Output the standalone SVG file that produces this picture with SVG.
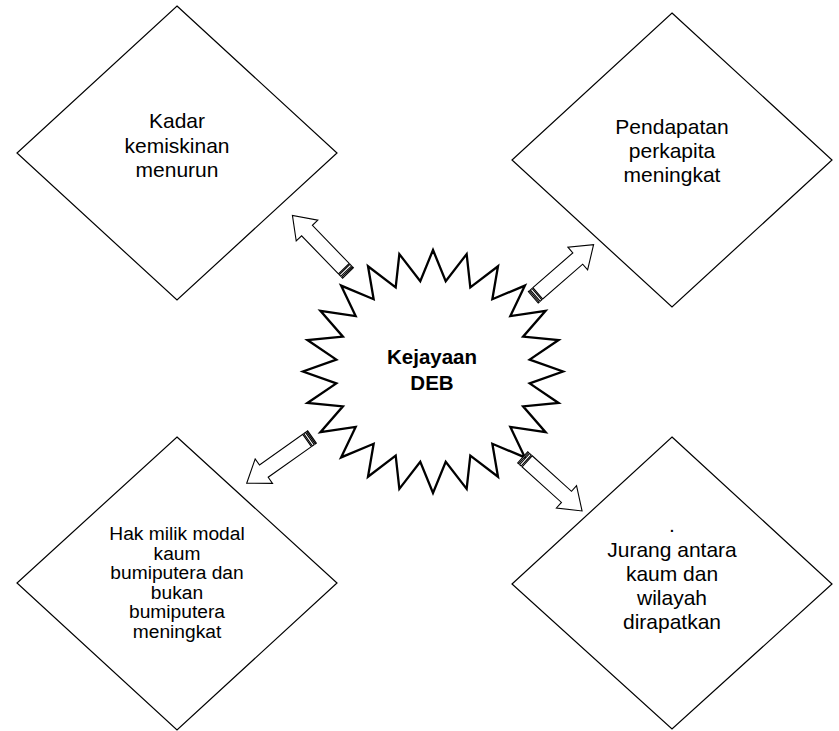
<svg xmlns="http://www.w3.org/2000/svg" width="839" height="731" viewBox="0 0 839 731">
<style>
.dia{fill:#fff;stroke:#000;stroke-width:1.2}
.star{fill:#fff;stroke:#000;stroke-width:2.3;stroke-linejoin:miter}
.arr{fill:#fff;stroke:#000;stroke-width:1.1;stroke-linejoin:miter}
.t{font-family:"Liberation Sans",Arial,sans-serif;font-size:21px;fill:#000;text-anchor:middle}
.t3{font-family:"Liberation Sans",Arial,sans-serif;font-size:19.2px;fill:#000;text-anchor:middle}
.tb{font-family:"Liberation Sans",Arial,sans-serif;font-size:20.5px;font-weight:bold;fill:#000;text-anchor:middle}
</style>
<defs>
<g id="sarrow">
<rect class="arr" x="0" y="-7.5" width="1.3" height="15"/>
<rect class="arr" x="2.6" y="-7.5" width="2.2" height="15"/>
<path class="arr" d="M6,-7.5 L59,-7.5 L59,-15 L80,0 L59,15 L59,7.5 L6,7.5 Z"/>
</g>
</defs>
<rect width="839" height="731" fill="#fff"/>
<g id="node-kadar">
<polygon class="dia" points="177,6 337,153 177,300 17,153"/>
<text class="t" x="177" y="128">Kadar</text>
<text class="t" x="177" y="152.5">kemiskinan</text>
<text class="t" x="177" y="177">menurun</text>
</g>
<g id="node-pendapatan">
<polygon class="dia" points="672,13 832,160 672,307 512,160"/>
<text class="t" x="672" y="134">Pendapatan</text>
<text class="t" x="672" y="158">perkapita</text>
<text class="t" x="672" y="182">meningkat</text>
</g>
<g id="node-hakmilik">
<polygon class="dia" points="177,437 337,583 177,730 17,583"/>
<text class="t3" x="177" y="540">Hak milik modal</text>
<text class="t3" x="177" y="559.6">kaum</text>
<text class="t3" x="177" y="579.2">bumiputera dan</text>
<text class="t3" x="177" y="598.8">bukan</text>
<text class="t3" x="177" y="618.4">bumiputera</text>
<text class="t3" x="177" y="638">meningkat</text>
</g>
<g id="node-jurang">
<polygon class="dia" points="672,437 832,584 672,729 512,584"/>
<text class="t" x="672" y="532">.</text>
<text class="t" x="672" y="557">Jurang antara</text>
<text class="t" x="672" y="581">kaum dan</text>
<text class="t" x="672" y="605">wilayah</text>
<text class="t" x="672" y="629">dirapatkan</text>
</g>
<g id="node-deb">
<polygon class="star" points="433,250 445.73,281.16 466.65,254.14 470.31,287.31 498,266.28 492.35,299.21 524.92,285.59 510.35,316.03 545.58,310.75 523.08,336.63 558.57,340.05 529.67,359.61 563,371.5 529.67,383.39 558.57,402.95 523.08,406.37 545.58,432.25 510.35,426.97 524.92,457.41 492.35,443.79 498,476.72 470.31,455.69 466.65,488.86 445.73,461.84 433,493 420.27,461.84 399.35,488.86 395.69,455.69 368,476.72 373.65,443.79 341.08,457.41 355.65,426.97 320.42,432.25 342.92,406.37 307.43,402.95 336.33,383.39 303,371.5 336.33,359.61 307.43,340.05 342.92,336.63 320.42,310.75 355.65,316.03 341.08,285.59 373.65,299.21 368,266.28 395.69,287.31 399.35,254.14 420.27,281.16"/>
<text class="tb" x="432" y="364">Kejayaan</text>
<text class="tb" x="432" y="390">DEB</text>
</g>
<g id="connectors">
<use href="#sarrow" transform="translate(348,273) rotate(-134)"/>
<use href="#sarrow" transform="translate(533.3,297.3) rotate(-41.1)"/>
<use href="#sarrow" transform="translate(312,437) rotate(144.7)"/>
<use href="#sarrow" transform="translate(522.7,457.3) rotate(42.1)"/>
</g>
</svg>
